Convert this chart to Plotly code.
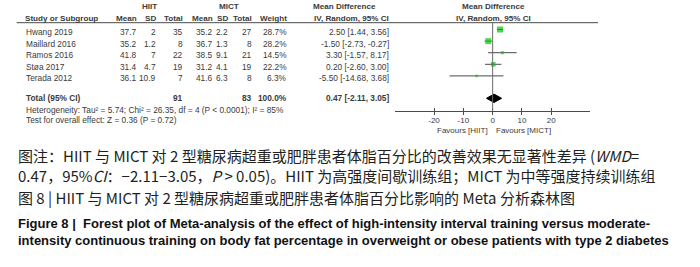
import plotly.graph_objects as go

# ---------------- data ----------------
studies = ["Hwang 2019", "Maillard 2016", "Ramos 2016", "Støa 2017", "Terada 2012"]
hiit_mean = [37.7, 35.2, 41.8, 31.4, 36.1]
hiit_sd = [2, 1.2, 7, 4.7, 10.9]
hiit_n = [35, 8, 22, 19, 7]
mict_mean = [35.2, 36.7, 38.5, 31.2, 41.6]
mict_sd = [2.2, 1.3, 9.1, 4.1, 6.3]
mict_n = [27, 8, 21, 19, 8]
weights = [28.7, 28.2, 14.5, 22.2, 6.3]
md = [2.50, -1.50, 3.30, 0.20, -5.50]
ci_lo = [1.44, -2.73, -1.57, -2.60, -14.68]
ci_hi = [3.56, -0.27, 8.17, 3.00, 3.68]

total_label = "Total (95% CI)"
total_hiit_n = 91
total_mict_n = 83
total_weight = 100.0
total_md = 0.47
total_lo = -2.11
total_hi = 3.05

heterogeneity = "Heterogeneity: Tau² = 5.74; Chi² = 26.35, df = 4 (P < 0.0001); I² = 85%"
overall_test = "Test for overall effect: Z = 0.36 (P = 0.72)"

x_ticks = [-20, -10, 0, 10, 20]
x_tick_text = ["-20", "-10", "0", "10", "20"]
favours_left = "Favours [HIIT]"
favours_right = "Favours [MICT]"

caption_lines = [
    "图注：HIIT 与 MICT 对 2 型糖尿病超重或肥胖患者体脂百分比的改善效果无显著性差异 (<i>WMD</i>=",
    "0.47，95%<i>CI</i>：−2.11−3.05，<i>P</i> > 0.05)。HIIT 为高强度间歇训练组；MICT 为中等强度持续训练组",
    "图 8 | HIIT 与 MICT 对 2 型糖尿病超重或肥胖患者体脂百分比影响的 Meta 分析森林图",
]
caption_en = [
    "Figure 8 |  Forest plot of Meta-analysis of the effect of high-intensity interval training versus moderate-",
    "intensity continuous training on body fat percentage in overweight or obese patients with type 2 diabetes",
]

# ---------------- layout helpers ----------------
W, H = 700, 267
P0, S = 29.5, 11.6          # pixel y of first row marker, row spacing


def row_of(py):
    return (py - P0) / S


def py_paper(py):
    return 1 - py / H


def px_paper(px):
    return px / W


TXT = "#3a3a3a"
FONT = "Liberation Sans, Arial, sans-serif"
FS = 8.3

fig = go.Figure()

# CI lines
cx, cy = [], []
for i in range(len(studies)):
    cx += [ci_lo[i], ci_hi[i], None]
    cy += [i, i, None]
fig.add_trace(go.Scatter(x=cx, y=cy, mode="lines", line=dict(color="#4a4a4a", width=1),
                         hoverinfo="skip", showlegend=False))

# squares
sizes = [max(2.5, w * 0.21) for w in weights]
fig.add_trace(go.Scatter(x=md, y=list(range(len(studies))), mode="markers",
                         marker=dict(symbol="square", size=sizes, color="#00c800",
                                     line=dict(width=0)),
                         hoverinfo="skip", showlegend=False))

# diamond
tr = row_of(98.3)
dh = 4.2 / S
fig.add_trace(go.Scatter(x=[total_lo, total_md, total_hi, total_md, total_lo],
                         y=[tr, tr - dh, tr, tr + dh, tr], mode="lines", fill="toself",
                         fillcolor="black", line=dict(color="black", width=1),
                         hoverinfo="skip", showlegend=False))

# dummy trace for inside-tick axis
fig.add_trace(go.Scatter(x=[None], y=[None], xaxis="x2", yaxis="y", showlegend=False,
                         hoverinfo="skip"))

x0p, x1p = 395, 590
xrange = [-33.3, 33.2]
axis_pos = py_paper(111)

fig.update_layout(
    width=W, height=H, margin=dict(l=0, r=0, t=0, b=0),
    paper_bgcolor="white", plot_bgcolor="rgba(0,0,0,0)",
    xaxis=dict(domain=[px_paper(x0p), px_paper(x1p)], range=xrange, anchor="free",
               position=axis_pos, showgrid=False, zeroline=False, showline=True,
               linecolor="#4a4a4a", linewidth=1, ticks="outside", ticklen=3,
               tickcolor="#4a4a4a", tickwidth=1, tickvals=x_ticks, ticktext=x_tick_text,
               ticklabelstandoff=-2,
               tickfont=dict(family=FONT, size=8, color=TXT), fixedrange=True),
    xaxis2=dict(domain=[px_paper(x0p), px_paper(x1p)], range=xrange, anchor="free",
                overlaying="x", position=axis_pos, showgrid=False, zeroline=False,
                showline=False, ticks="inside", ticklen=3, tickcolor="#4a4a4a",
                tickvals=x_ticks, showticklabels=False, fixedrange=True),
    yaxis=dict(domain=[0, 1], range=[row_of(H), row_of(0)], visible=False,
               showgrid=False, zeroline=False, fixedrange=True),
)

shapes = []
# header underline
shapes.append(dict(type="line", xref="paper", yref="paper", x0=px_paper(16.7), x1=px_paper(598),
                   y0=py_paper(22.7), y1=py_paper(22.7), line=dict(color="#4a4a4a", width=1)))
# zero line
shapes.append(dict(type="line", xref="x", yref="paper", x0=0, x1=0,
                   y0=py_paper(111), y1=py_paper(22.7), line=dict(color="#6a6a6a", width=1)))
fig.update_layout(shapes=shapes)

ann = []


def txt(x, py, s, anchor="left", bold=False, size=FS, color=TXT, family=FONT):
    if bold:
        s = "<b>" + s + "</b>"
    ann.append(dict(x=px_paper(x), y=py_paper(py), xref="paper", yref="paper", text=s,
                    showarrow=False, xanchor=anchor, yanchor="middle", borderpad=0,
                    align="left",
                    font=dict(family=family, size=size, color=color)))


def rtxt(x, row, s, anchor="right", bold=False, shift=-2.5):
    if bold:
        s = "<b>" + s + "</b>"
    ann.append(dict(x=px_paper(x), y=row, xref="paper", yref="y", yshift=shift, text=s,
                    showarrow=False, xanchor=anchor, yanchor="middle", borderpad=0,
                    font=dict(family=FONT, size=FS, color=TXT)))


# headers
HB = 8.1
txt(149, 6, "HIIT", "center", True, size=HB)
txt(229, 6, "MICT", "center", True, size=HB)
txt(312, 6, "Mean Difference", "left", True, size=HB)
txt(493, 6, "Mean Difference", "center", True, size=HB)
hy = 18.5
txt(24, hy, "Study or Subgroup", "left", True, size=HB)
cols = {"hm": 138, "hs": 157, "hn": 184, "mm": 214, "ms": 229, "mn": 253, "w": 288, "ci": 390}
txt(cols["hm"], hy, "Mean", "right", True, size=HB)
txt(cols["hs"], hy, "SD", "right", True, size=HB)
txt(cols["hn"], hy, "Total", "right", True, size=HB)
txt(cols["mm"], hy, "Mean", "right", True, size=HB)
txt(cols["ms"], hy, "SD", "right", True, size=HB)
txt(cols["mn"], hy, "Total", "right", True, size=HB)
txt(cols["w"], hy, "Weight", "right", True, size=HB)
txt(cols["ci"], hy, "IV, Random, 95% CI", "right", True, size=HB)
txt(493, hy, "IV, Random, 95% CI", "center", True, size=HB)

for i, s in enumerate(studies):
    rtxt(25, i, s, "left")
    rtxt(cols["hm"], i, f"{hiit_mean[i]:g}")
    rtxt(cols["hs"], i, f"{hiit_sd[i]:g}")
    rtxt(cols["hn"], i, f"{hiit_n[i]}")
    rtxt(cols["mm"], i, f"{mict_mean[i]:g}")
    rtxt(cols["ms"], i, f"{mict_sd[i]:g}")
    rtxt(cols["mn"], i, f"{mict_n[i]}")
    rtxt(cols["w"], i, f"{weights[i]:.1f}%")
    rtxt(cols["ci"], i, f"{md[i]:.2f} [{ci_lo[i]:.2f}, {ci_hi[i]:.2f}]")

rtxt(25, tr, total_label, "left", True, shift=0)
rtxt(cols["hn"], tr, f"{total_hiit_n}", "right", True, shift=0)
rtxt(cols["mn"], tr, f"{total_mict_n}", "right", True, shift=0)
rtxt(cols["w"], tr, f"{total_weight:.1f}%", "right", True, shift=0)
rtxt(cols["ci"], tr, f"{total_md:.2f} [{total_lo:.2f}, {total_hi:.2f}]", "right", True, shift=0)

txt(25, 109.5, heterogeneity)
txt(25, 120, overall_test)

txt(489, 130, favours_left, "right", size=8)
txt(495, 130, favours_right, "left", size=8)

CJK = "Noto Sans CJK SC, sans-serif"
CAP = "#231f20"
txt(17, 165.5, caption_lines[0] + "<br>" + caption_lines[1], size=15, color=CAP, family=CJK)
txt(17, 197.5, caption_lines[2], size=15, color=CAP, family=CJK)
EN = "Liberation Sans Narrow, Arial Narrow, Liberation Sans, sans-serif"
txt(17, 232, "<b>" + caption_en[0] + "<br>" + caption_en[1] + "</b>", size=13, color="#111",
    family=EN)

fig.update_layout(annotations=ann)
fig.write_html("out.html", config={"displayModeBar": False},
               post_script="document.body.style.margin='0';document.body.style.padding='0';")
